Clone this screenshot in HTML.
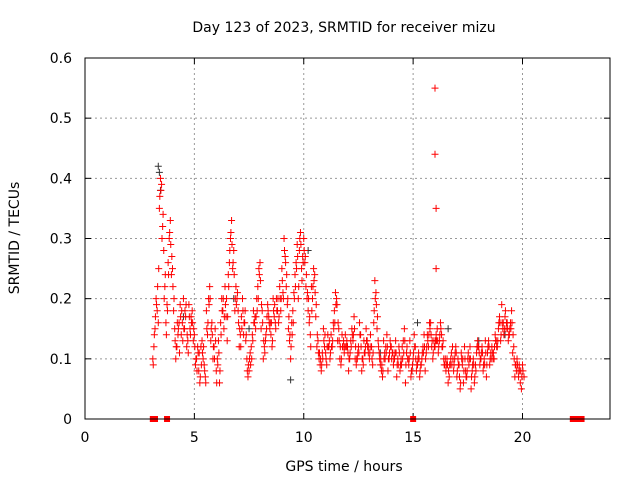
<!DOCTYPE html>
<html><head><meta charset="utf-8"><style>
body{margin:0;background:#fff;}
svg{display:block;font-family:"DejaVu Sans","Liberation Sans",sans-serif;}
</style></head><body>
<svg id="chart" width="640" height="480">
<text x="344" y="32" text-anchor="middle" font-size="14">Day 123 of 2023, SRMTID for receiver mizu</text>
<text x="344" y="471" text-anchor="middle" font-size="14">GPS time / hours</text>
<text transform="translate(19,238) rotate(-90)" text-anchor="middle" font-size="14">SRMTID / TECUs</text>
<g id="grid"></g><g id="marks"></g>
<rect x="85" y="58" width="525" height="361" fill="none" stroke="#000"/>
</svg>
<script>
const xTicks=[0,5,10,15,20];
const yTicks=[0,0.1,0.2,0.3,0.4,0.5,0.6];
const yTickLabels=["0","0.1","0.2","0.3","0.4","0.5","0.6"];
const mainStart=3.1;
const mainValues=[0.1,0.15,0.18,0.35,0.39,0.28,0.16,0.26,0.33,
0.25,0.15,0.12,0.16,0.14,0.2,0.17,0.13,0.15,0.18,
0.14,0.1,0.08,0.12,0.1,0.07,0.14,0.22,0.16,0.12,
0.08,0.13,0.16,0.18,0.22,0.13,0.26,0.33,0.28,0.22,
0.18,0.14,0.2,0.16,0.1,0.08,0.12,0.18,0.15,0.22,
0.26,0.18,0.12,0.15,0.17,0.14,0.2,0.16,0.18,0.22,
0.25,0.3,0.22,0.15,0.1,0.18,0.24,0.29,0.28,0.25,
0.3,0.22,0.18,0.14,0.2,0.24,0.12,0.1,0.08,0.15,
0.11,0.14,0.1,0.12,0.18,0.2,0.15,0.09,0.12,0.14,
0.12,0.1,0.15,0.17,0.09,0.12,0.14,0.1,0.11,0.13,
0.1,0.12,0.16,0.21,0.13,0.09,0.07,0.11,0.14,0.1,
0.12,0.09,0.13,0.1,0.08,0.12,0.15,0.11,0.09,0.07,
0.1,0.12,0.09,0.07,0.1,0.14,0.11,0.12,0.16,0.1,
0.12,0.15,0.13,0.14,0.1,0.08,0.06,0.09,0.12,0.1,
0.07,0.09,0.11,0.06,0.08,0.1,0.12,0.08,0.06,0.11,
0.12,0.1,0.08,0.13,0.11,0.09,0.12,0.1,0.13,0.15,
0.13,0.15,0.17,0.16,0.14,0.18,0.12,0.09,0.08,0.06,0.09];
const secStart=3.15;
const secValues=[0.12,0.2,0.16,0.4,0.32,0.22,0.19,0.3,0.24,
0.18,0.1,0.14,0.19,0.16,0.15,0.12,0.19,0.17,0.13,
0.09,0.12,0.06,0.13,0.09,0.18,0.2,0.13,0.1,0.15,
0.1,0.06,0.2,0.15,0.17,0.24,0.3,0.25,0.18,0.2,
0.12,0.17,0.14,0.13,0.07,0.11,0.14,0.16,0.2,0.25,
0.15,0.1,0.13,0.19,0.15,0.12,0.17,0.2,0.16,0.18,
0.21,0.27,0.19,0.13,0.16,0.21,0.26,0.2,0.31,0.27,
0.26,0.2,0.16,0.22,0.25,0.17,0.13,0.09,0.11,0.12,
0.09,0.12,0.14,0.16,0.21,0.13,0.1,0.14,0.11,0.12,
0.08,0.13,0.13,0.1,0.1,0.16,0.08,0.13,0.15,0.11,
0.14,0.09,0.23,0.15,0.11,0.08,0.13,0.12,0.08,0.13,
0.11,0.1,0.07,0.12,0.1,0.13,0.06,0.1,0.13,0.08,
0.14,0.08,0.11,0.09,0.12,0.08,0.14,0.16,0.12,0.13,
0.14,0.11,0.16,0.12,0.09,0.1,0.07,0.11,0.08,0.12,
0.1,0.05,0.09,0.12,0.07,0.09,0.05,0.1,0.09,0.13,
0.09,0.12,0.1,0.07,0.13,0.11,0.1,0.14,0.12,0.17,
0.19,0.14,0.15,0.13,0.16,0.11,0.07,0.1,0.09,0.05];
const thirdStart=3.12;
const thirdValues=[0.09,0.17,0.22,0.37,0.3,0.2,0.14,0.24,0.29,
0.22,0.13,0.16,0.11,0.18,0.15,0.19,0.11,0.14,0.16,
0.12,0.08,0.11,0.09,0.12,0.06,0.16,0.2,0.14,0.1,
0.06,0.11,0.14,0.2,0.19,0.17,0.28,0.29,0.24,0.19,
0.16,0.12,0.18,0.18,0.08,0.1,0.1,0.16,0.17,0.2,
0.23,0.16,0.11,0.17,0.16,0.16,0.18,0.15,0.2,0.2,
0.23,0.28,0.24,0.17,0.12,0.16,0.22,0.27,0.3,0.23,
0.28,0.24,0.2,0.12,0.22,0.21,0.14,0.11,0.09,0.13,
0.1,0.12,0.11,0.13,0.16,0.19,0.13,0.1,0.13,0.12,
0.11,0.11,0.14,0.15,0.1,0.11,0.12,0.09,0.12,0.12,
0.11,0.1,0.18,0.19,0.12,0.1,0.08,0.1,0.12,0.11,
0.1,0.1,0.11,0.09,0.09,0.1,0.13,0.12,0.1,0.08,
0.11,0.1,0.1,0.08,0.11,0.12,0.12,0.14,0.14,0.11,
0.13,0.13,0.14,0.12,0.09,0.09,0.08,0.1,0.1,0.11,
0.08,0.07,0.1,0.08,0.07,0.11,0.1,0.09,0.07,0.12,
0.11,0.11,0.09,0.11,0.12,0.1,0.11,0.12,0.12,0.16,
0.14,0.16,0.18,0.15,0.15,0.16,0.1,0.08,0.07,0.08,0.08];
const fourthStart=3.17;
const fourthValues=[0.14,0.19,0.25,0.38,0.34,0.24,0.18,0.31,0.27,
0.2,0.12,0.15,0.17,0.13,0.18,0.14,0.17,0.16,0.15,
0.1,0.11,0.07,0.11,0.08,0.15,0.19,0.15,0.12,0.13,
0.09,0.08,0.18,0.17,0.2,0.22,0.31,0.26,0.2,0.21,
0.15,0.15,0.16,0.14,0.09,0.09,0.13,0.17,0.18,0.24,
0.19,0.13,0.14,0.18,0.16,0.13,0.19,0.18,0.17,0.2,
0.2,0.26,0.2,0.14,0.14,0.2,0.25,0.22,0.29,0.26,
0.27,0.21,0.17,0.18,0.23,0.19,0.11,0.1,0.1,0.14,
0.12,0.13,0.12,0.15,0.19,0.16,0.12,0.12,0.12,0.13,
0.1,0.12,0.14,0.12,0.11,0.14,0.1,0.11,0.13,0.12,
0.12,0.11,0.2,0.17,0.1,0.09,0.1,0.11,0.1,0.12,
0.11,0.11,0.09,0.11,0.09,0.11,0.09,0.1,0.11,0.09,
0.12,0.09,0.1,0.09,0.11,0.1,0.13,0.15,0.13,0.12,
0.13,0.12,0.15,0.13,0.1,0.09,0.09,0.09,0.09,0.11,
0.09,0.06,0.1,0.1,0.08,0.1,0.07,0.09,0.08,0.12,
0.1,0.11,0.09,0.09,0.12,0.1,0.11,0.13,0.13,0.16,
0.16,0.15,0.16,0.14,0.15,0.14,0.09,0.09,0.08,0.07,0.07];
const outlierTimes=[16.0,16.0,16.05,16.05];
const outlierValues=[0.55,0.44,0.35,0.25];
const grayTimes=[3.35,3.4,3.45,4.5,6.8,9.4,12.0,15.2,16.6,18.0,7.5,10.2,13.5,19.2];
const grayValues=[0.42,0.41,0.38,0.17,0.2,0.065,0.12,0.16,0.15,0.13,0.15,0.28,0.11,0.14];
const zeroTimes=[3.1,3.2,3.75,15.0,22.3,22.5,22.7];

const NS="http://www.w3.org/2000/svg";
const xs=t=>85+t*(525/24);
const ys=v=>419-v*(361/0.6);
const grid=document.getElementById('grid');
const marks=document.getElementById('marks');
function mk(tag,attrs,parent){const e=document.createElementNS(NS,tag);for(const k in attrs)e.setAttribute(k,attrs[k]);parent.appendChild(e);return e;}
xTicks.forEach((t,i)=>{
 const x=xs(t);
 if(t>0){const g=mk('line',{x1:x,x2:x,y1:58,y2:419,stroke:'#999','stroke-dasharray':'2,3','stroke-width':1},grid);
 
 }
 mk('line',{x1:x,x2:x,y1:419,y2:413,stroke:'#000'},grid);
 mk('line',{x1:x,x2:x,y1:58,y2:64,stroke:'#000'},grid);
 const l=mk('text',{x:x,y:442,'text-anchor':'middle','font-size':14},grid);
 l.textContent=String(t);
 
 
});
yTicks.forEach((v,i)=>{
 const y=ys(v);
 if(v>0&&v<0.6){const g=mk('line',{x1:85,x2:610,y1:y,y2:y,stroke:'#999','stroke-dasharray':'2,3','stroke-width':1},grid);
 
 }
 mk('line',{x1:85,x2:91,y1:y,y2:y,stroke:'#000'},grid);
 mk('line',{x1:604,x2:610,y1:y,y2:y,stroke:'#000'},grid);
 const l=mk('text',{x:72,y:y+5,'text-anchor':'end','font-size':14},grid);
 l.textContent=yTickLabels[i];
 
 
});
function plus(t,v,color){
 const x=xs(t),y=ys(v);
 const p=mk('path',{d:`M${x-3.5},${y}h7M${x},${y-3.5}v7`,stroke:color,'stroke-width':1},marks);
 
 
}
grayValues.forEach((v,i)=>plus(grayTimes[i],v,'#333'));
secValues.forEach((v,i)=>plus(secStart+0.1*i,v,'#f00'));
thirdValues.forEach((v,i)=>plus(thirdStart+0.1*i,v,'#f00'));
fourthValues.forEach((v,i)=>plus(fourthStart+0.1*i,v,'#f00'));
mainValues.forEach((v,i)=>plus(mainStart+0.1*i,v,'#f00'));
outlierValues.forEach((v,i)=>plus(outlierTimes[i],v,'#f00'));
zeroTimes.forEach(t=>{
 const r=mk('rect',{x:xs(t)-3,y:416,width:6,height:6,fill:'#f00'},marks);
 
 
});
</script>
</body></html>
